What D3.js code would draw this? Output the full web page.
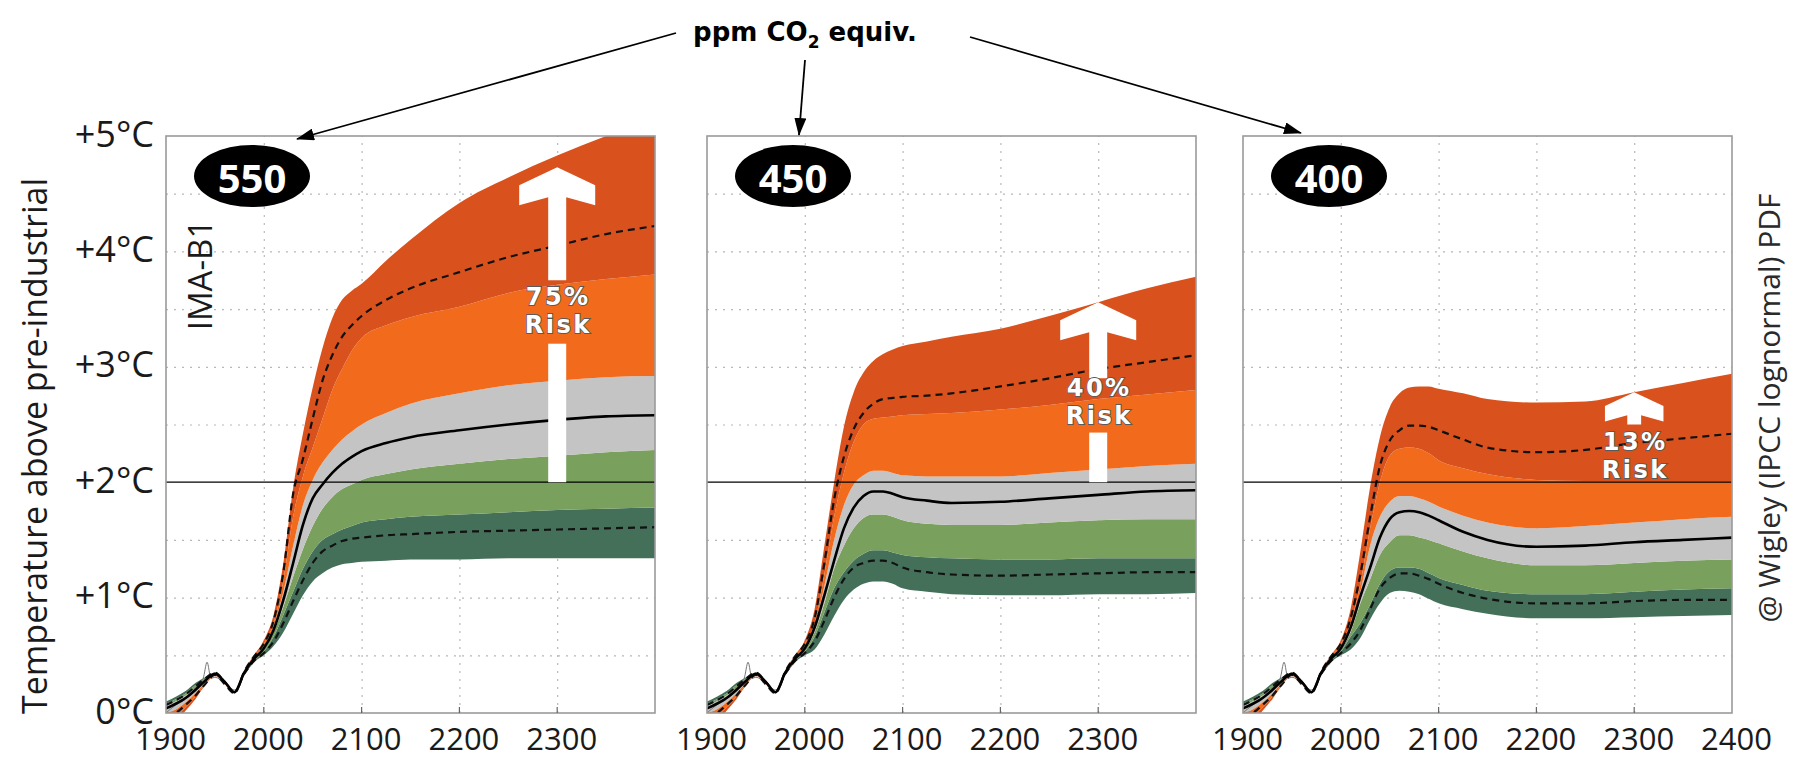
<!DOCTYPE html>
<html>
<head>
<meta charset="utf-8">
<script src="https://cdn.jsdelivr.net/npm/d3@7"></script>
<style>
  body { margin: 0; background: #fff; }
  svg { display: block; font-family: 'Open Sans', sans-serif; }
</style>
</head>
<body>
<svg id="chart" width="1796" height="760"></svg>
<script>
// shared history 1900-2000
const histYears = [1900, 1910, 1920, 1930, 1940, 1950, 1960, 1970, 1980, 1990, 2000];
const histMedian = [0.04, 0.08, 0.13, 0.2, 0.28, 0.34, 0.27, 0.18, 0.35, 0.47, 0.56];
const histDashLo = [0.07, 0.11, 0.16, 0.23, 0.3, 0.35, 0.27, 0.18, 0.34, 0.45, 0.52];
const histDashHi = [-0.03, 0.0, 0.07, 0.15, 0.25, 0.33, 0.25, 0.17, 0.36, 0.49, 0.6];
// band edges, bottom of dark green up to top of dark red
const histBounds = [
  [0.1, 0.14, 0.19, 0.26, 0.31, 0.35, 0.28, 0.18, 0.33, 0.44, 0.5],
  [0.08, 0.12, 0.17, 0.24, 0.3, 0.35, 0.27, 0.18, 0.34, 0.45, 0.53],
  [0.06, 0.1, 0.15, 0.22, 0.29, 0.34, 0.27, 0.18, 0.35, 0.46, 0.55],
  [0.0, 0.03, 0.09, 0.17, 0.26, 0.33, 0.26, 0.17, 0.35, 0.48, 0.58],
  [-0.06, -0.03, 0.05, 0.14, 0.25, 0.33, 0.25, 0.17, 0.36, 0.49, 0.6],
  [-0.1, -0.07, 0.02, 0.12, 0.24, 0.32, 0.25, 0.17, 0.37, 0.5, 0.63],
];
const obsYears = [1900, 1910, 1920, 1930, 1938, 1942, 1946, 1950, 1960, 1970, 1980, 1990, 2000];
const obsTemp = [0.0, 0.07, 0.12, 0.22, 0.3, 0.44, 0.3, 0.31, 0.26, 0.2, 0.33, 0.45, 0.55];

const futureYears = [2010, 2020, 2030, 2040, 2050, 2060, 2070, 2080, 2090, 2100, 2125, 2150, 2200, 2250, 2300, 2350, 2400];

const median550 = [0.72, 0.98, 1.3, 1.63, 1.86, 1.98, 2.08, 2.16, 2.22, 2.27, 2.34, 2.39, 2.45, 2.5, 2.54, 2.57, 2.58];
const dashLo550 = [0.62, 0.78, 0.97, 1.15, 1.3, 1.4, 1.45, 1.49, 1.51, 1.52, 1.54, 1.55, 1.57, 1.58, 1.59, 1.6, 1.61];
const dashHi550 = [0.8, 1.22, 1.9, 2.2, 2.55, 2.88, 3.1, 3.26, 3.36, 3.44, 3.58, 3.68, 3.82, 3.95, 4.05, 4.15, 4.22];
const bounds550 = [
  [0.58, 0.7, 0.86, 1.02, 1.14, 1.21, 1.26, 1.29, 1.3, 1.31, 1.32, 1.33, 1.33, 1.34, 1.34, 1.34, 1.34],
  [0.66, 0.85, 1.05, 1.25, 1.4, 1.5, 1.55, 1.59, 1.62, 1.65, 1.68, 1.7, 1.72, 1.74, 1.76, 1.77, 1.78],
  [0.7, 0.92, 1.18, 1.42, 1.62, 1.77, 1.87, 1.94, 1.98, 2.02, 2.07, 2.11, 2.16, 2.2, 2.23, 2.26, 2.28],
  [0.75, 1.05, 1.45, 1.8, 2.02, 2.17, 2.28, 2.37, 2.44, 2.5, 2.6, 2.68, 2.77, 2.84, 2.88, 2.91, 2.92],
  [0.78, 1.15, 1.7, 2.05, 2.3, 2.55, 2.8, 2.98, 3.14, 3.25, 3.36, 3.43, 3.52, 3.64, 3.71, 3.76, 3.8],
  [0.85, 1.3, 1.95, 2.42, 2.82, 3.16, 3.42, 3.58, 3.66, 3.72, 3.92, 4.1, 4.42, 4.64, 4.83, 5.0, 5.15],
];

const median450 = [0.74, 1.02, 1.32, 1.6, 1.78, 1.88, 1.92, 1.92, 1.9, 1.87, 1.84, 1.82, 1.83, 1.86, 1.89, 1.92, 1.93];
const dashLo450 = [0.62, 0.8, 1.0, 1.16, 1.26, 1.3, 1.32, 1.32, 1.3, 1.26, 1.22, 1.2, 1.19, 1.2, 1.21, 1.22, 1.22];
const dashHi450 = [0.82, 1.3, 1.85, 2.22, 2.46, 2.6, 2.68, 2.72, 2.73, 2.74, 2.75, 2.77, 2.83, 2.9, 2.98, 3.04, 3.1];
const bounds450 = [
  [0.55, 0.68, 0.84, 0.98, 1.07, 1.12, 1.14, 1.14, 1.12, 1.08, 1.05, 1.03, 1.02, 1.02, 1.03, 1.03, 1.04],
  [0.66, 0.87, 1.08, 1.22, 1.32, 1.38, 1.41, 1.41, 1.39, 1.37, 1.35, 1.34, 1.33, 1.33, 1.34, 1.34, 1.34],
  [0.7, 0.95, 1.25, 1.45, 1.6, 1.69, 1.72, 1.72, 1.7, 1.67, 1.64, 1.63, 1.63, 1.65, 1.67, 1.68, 1.68],
  [0.75, 1.1, 1.5, 1.8, 1.98, 2.06, 2.1, 2.1, 2.08, 2.06, 2.05, 2.05, 2.05, 2.08, 2.11, 2.14, 2.16],
  [0.78, 1.2, 1.7, 2.08, 2.35, 2.5, 2.55, 2.56, 2.57, 2.58, 2.59, 2.6, 2.63, 2.67, 2.72, 2.76, 2.8],
  [0.9, 1.45, 2.0, 2.48, 2.78, 2.95, 3.05, 3.11, 3.15, 3.18, 3.22, 3.26, 3.33, 3.44, 3.56, 3.68, 3.78],
];

const median400 = [0.74, 1.01, 1.26, 1.52, 1.68, 1.74, 1.75, 1.74, 1.71, 1.67, 1.57, 1.5, 1.44, 1.45, 1.48, 1.5, 1.52];
const dashLo400 = [0.6, 0.72, 0.9, 1.08, 1.17, 1.21, 1.21, 1.19, 1.16, 1.12, 1.04, 0.99, 0.95, 0.95, 0.97, 0.98, 0.98];
const dashHi400 = [0.82, 1.2, 1.7, 2.14, 2.36, 2.45, 2.49, 2.49, 2.48, 2.45, 2.37, 2.3, 2.26, 2.28, 2.34, 2.38, 2.42];
const bounds400 = [
  [0.55, 0.65, 0.81, 0.95, 1.04, 1.06, 1.05, 1.03, 0.99, 0.95, 0.9, 0.86, 0.82, 0.82, 0.83, 0.84, 0.85],
  [0.66, 0.78, 0.94, 1.12, 1.23, 1.26, 1.26, 1.25, 1.21, 1.17, 1.11, 1.06, 1.03, 1.03, 1.05, 1.07, 1.08],
  [0.7, 0.95, 1.16, 1.37, 1.48, 1.54, 1.54, 1.52, 1.5, 1.47, 1.4, 1.34, 1.28, 1.28, 1.3, 1.32, 1.33],
  [0.75, 1.05, 1.45, 1.7, 1.83, 1.88, 1.88, 1.86, 1.83, 1.79, 1.71, 1.65, 1.6, 1.62, 1.65, 1.68, 1.7],
  [0.78, 1.12, 1.6, 2.0, 2.23, 2.29, 2.3, 2.29, 2.25, 2.19, 2.12, 2.07, 2.02, 2.01, 2.01, 2.01, 2.01],
  [0.9, 1.4, 1.96, 2.39, 2.65, 2.77, 2.82, 2.83, 2.83, 2.81, 2.77, 2.72, 2.69, 2.7, 2.78, 2.86, 2.94],
];

const scenarios = ['550', '450', '400'];
const panelBounds = [bounds550, bounds450, bounds400];
const panelMedian = [median550, median450, median400];
const panelDashLo = [dashLo550, dashLo450, dashLo400];
const panelDashHi = [dashHi550, dashHi450, dashHi400];

const riskLabels = ['75%', '40%', '13%'];
const riskYear = 2300;
const riskTip = [4.73, 3.56, 2.78];
const riskGapTop = [3.75, 2.9, 2.5];
const riskGapBottom = [3.2, 2.43, 2.0];
const riskTextMid = [3.49, 2.7, 2.235];
const riskHeadScale = [1, 1, 0.77];

const yTickValues = [0, 1, 2, 3, 4, 5];
const xTickValues = [1900, 2000, 2100, 2200, 2300];
const xTickValuesLast = [1900, 2000, 2100, 2200, 2300, 2400];

const PANEL_LEFTS = [166, 707, 1243];
const PANEL_TOP = 136;
const PANEL_W = 489;
const PANEL_H = 577;
const BAND_COLORS = ['#44705a', '#79a05c', '#c4c4c4', '#f26b1c', '#d9521d'];

const svg = d3.select('#chart');
const x = d3.scaleLinear().domain([1900, 2400]).range([0, PANEL_W]);
const y = d3.scaleLinear().domain([0, 5]).range([PANEL_H, 0]);

const defs = svg.append('defs');
defs.append('clipPath').attr('id', 'plotClip')
  .append('rect').attr('width', PANEL_W).attr('height', PANEL_H);
defs.append('marker')
  .attr('id', 'arrowHead')
  .attr('viewBox', '0 0 18 12')
  .attr('refX', 17).attr('refY', 6)
  .attr('markerWidth', 18).attr('markerHeight', 12)
  .attr('markerUnits', 'userSpaceOnUse')
  .attr('orient', 'auto')
  .append('path').attr('d', 'M0,0 L18,6 L0,12 Z').attr('fill', '#000');

const years = histYears.concat(futureYears);
const line = d3.line()
  .x((d, k) => x(years[k]))
  .y(d => y(d))
  .curve(d3.curveMonotoneX);

scenarios.forEach((name, i) => {
  const g = svg.append('g')
    .attr('transform', `translate(${PANEL_LEFTS[i]},${PANEL_TOP})`);

  // dotted grid
  g.append('g')
    .call(d3.axisLeft(y).tickValues(d3.range(0.5, 5, 0.5).filter(v => v !== 2)).tickSize(-PANEL_W).tickFormat(''))
    .call(a => a.select('.domain').remove())
    .selectAll('line').attr('stroke', '#b8b8b8').attr('stroke-width', 1.2).attr('stroke-dasharray', '2,6');
  g.append('g')
    .attr('transform', `translate(0,${PANEL_H})`)
    .call(d3.axisBottom(x).tickValues([2000, 2100, 2200, 2300]).tickSize(-PANEL_H).tickFormat(''))
    .call(a => a.select('.domain').remove())
    .selectAll('line').attr('stroke', '#b8b8b8').attr('stroke-width', 1.2).attr('stroke-dasharray', '2,6');

  const bounds = panelBounds[i].map((b, k) => histBounds[k].concat(b));
  const plot = g.append('g').attr('clip-path', 'url(#plotClip)');

  BAND_COLORS.forEach((color, k) => {
    const area = d3.area()
      .x((d, j) => x(years[j]))
      .y0((d, j) => y(bounds[k][j]))
      .y1((d, j) => y(bounds[k + 1][j]))
      .curve(d3.curveMonotoneX);
    plot.append('path').datum(years).attr('d', area).attr('fill', color);
  });

  plot.append('path')
    .attr('d', d3.line().x((d, k) => x(obsYears[k])).y(d => y(d)).curve(d3.curveMonotoneX)(obsTemp))
    .attr('fill', 'none').attr('stroke', '#777').attr('stroke-width', 1);

  [histDashLo.concat(panelDashLo[i]), histDashHi.concat(panelDashHi[i])].forEach(vals => {
    plot.append('path').attr('d', line(vals))
      .attr('fill', 'none').attr('stroke', '#111').attr('stroke-width', 2.2).attr('stroke-dasharray', '7,5');
  });
  plot.append('path').attr('d', line(histMedian.concat(panelMedian[i])))
    .attr('fill', 'none').attr('stroke', '#000').attr('stroke-width', 2.6);

  // +2 C threshold
  g.append('line')
    .attr('x1', 0).attr('x2', PANEL_W)
    .attr('y1', y(2)).attr('y2', y(2))
    .attr('stroke', '#000').attr('stroke-width', 1.2);

  g.append('rect')
    .attr('width', PANEL_W).attr('height', PANEL_H)
    .attr('fill', 'none').attr('stroke', '#9a9a9a').attr('stroke-width', 1.6);

  // small inner ticks at bottom
  g.append('g').selectAll('line')
    .data([2000, 2100, 2200, 2300]).join('line')
    .attr('x1', d => x(d)).attr('x2', d => x(d))
    .attr('y1', PANEL_H).attr('y2', PANEL_H - 6)
    .attr('stroke', '#666').attr('stroke-width', 1.2);

  // risk arrow
  const s = riskHeadScale[i];
  const cx = x(riskYear);
  const tipY = y(riskTip[i]);
  const hw = 38 * s, sw = 9 * s;
  const gapTop = y(riskGapTop[i]);
  const head = [
    [0, 0], [hw, 18 * s], [hw, 38 * s], [sw, 30 * s], [sw, gapTop - tipY],
    [-sw, gapTop - tipY], [-sw, 30 * s], [-hw, 38 * s], [-hw, 18 * s],
  ];
  g.append('path')
    .attr('d', 'M' + head.map(p => [cx + p[0], tipY + p[1]].join(',')).join('L') + 'Z')
    .attr('fill', '#fff');
  if (riskGapBottom[i] > 2) {
    g.append('rect')
      .attr('x', cx - sw).attr('width', 2 * sw)
      .attr('y', y(riskGapBottom[i])).attr('height', y(2) - y(riskGapBottom[i]))
      .attr('fill', '#fff');
  }
  [riskLabels[i], 'Risk'].forEach((t, k) => {
    g.append('text')
      .attr('x', cx + 1).attr('y', y(riskTextMid[i]) - 5 + k * 28)
      .attr('text-anchor', 'middle')
      .attr('font-family', "'DejaVu Sans', sans-serif")
      .attr('font-size', 24).attr('font-weight', 600)
      .attr('letter-spacing', 2.5)
      .attr('fill', '#fff').attr('stroke', '#5a5a5a').attr('stroke-width', 1.8)
      .attr('paint-order', 'stroke')
      .text(t);
  });

  // scenario badge
  g.append('ellipse')
    .attr('cx', 86).attr('cy', 40).attr('rx', 58).attr('ry', 31)
    .attr('fill', '#000');
  g.append('text')
    .attr('x', 86).attr('y', 41)
    .attr('text-anchor', 'middle').attr('dominant-baseline', 'central')
    .attr('font-size', 40).attr('font-weight', 700).attr('fill', '#fff')
    .text(name);

  // x axis labels
  g.append('g')
    .attr('transform', `translate(4,${PANEL_H})`)
    .call(d3.axisBottom(x).tickValues(i === 2 ? xTickValuesLast : xTickValues).tickSize(0).tickPadding(15).tickFormat(d3.format('d')))
    .call(a => a.select('.domain').remove())
    .selectAll('text')
    .attr('font-family', "'Open Sans', sans-serif")
    .attr('font-size', 31).attr('fill', '#1a1a1a');

  if (i === 0) {
    g.append('g')
      .call(d3.axisLeft(y).tickValues(yTickValues).tickSize(0).tickPadding(12)
        .tickFormat(d => (d ? '+' : '') + d + '°C'))
      .call(a => a.select('.domain').remove())
      .selectAll('text')
      .attr('font-family', "'Open Sans', sans-serif")
      .attr('font-size', 36).attr('fill', '#1a1a1a')
      .attr('dy', '0.28em');

    g.append('text')
      .attr('transform', `translate(33,139) rotate(-90)`)
      .attr('text-anchor', 'middle').attr('dominant-baseline', 'central')
      .attr('font-size', 33).attr('fill', '#1a1a1a')
      .text('IMA-B1');
  }
});

svg.append('text')
  .attr('transform', 'translate(34,446) rotate(-90)')
  .attr('text-anchor', 'middle').attr('dominant-baseline', 'central')
  .attr('font-size', 34).attr('fill', '#1a1a1a')
  .text('Temperature above pre-industrial');

svg.append('text')
  .attr('transform', 'translate(1768,408) rotate(-90)')
  .attr('text-anchor', 'middle').attr('dominant-baseline', 'central')
  .attr('font-size', 30).attr('fill', '#2a2a2a')
  .text('@ Wigley (IPCC lognormal) PDF');

// title with arrows to each panel
const title = svg.append('text')
  .attr('x', 805).attr('y', 41)
  .attr('text-anchor', 'middle')
  .attr('font-family', "'DejaVu Sans', sans-serif")
  .attr('font-size', 26).attr('font-weight', 700).attr('fill', '#000');
title.append('tspan').text('ppm CO');
title.append('tspan').attr('dy', 7).attr('font-size', 17).text('2');
title.append('tspan').attr('dy', -7).text(' equiv.');

const titleArrows = [
  [676, 33, PANEL_LEFTS[0] + 131, PANEL_TOP + 3],
  [805, 60, PANEL_LEFTS[1] + 92, PANEL_TOP - 1],
  [970, 37, PANEL_LEFTS[2] + 58, PANEL_TOP - 3],
];
svg.append('g').selectAll('line')
  .data(titleArrows).join('line')
  .attr('x1', d => d[0]).attr('y1', d => d[1])
  .attr('x2', d => d[2]).attr('y2', d => d[3])
  .attr('stroke', '#000').attr('stroke-width', 1.8)
  .attr('marker-end', 'url(#arrowHead)');
</script>
</body>
</html>
